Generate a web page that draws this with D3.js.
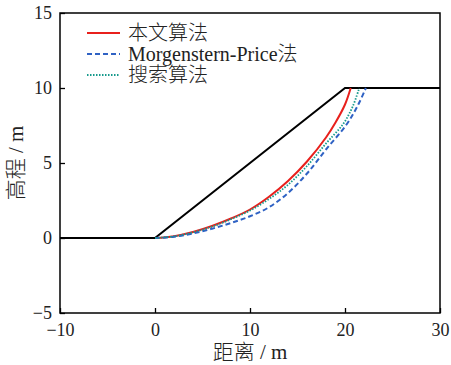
<!DOCTYPE html>
<html>
<head>
<meta charset="utf-8">
<script src="https://cdn.jsdelivr.net/npm/d3@7"></script>
<style>
  body { margin: 0; background: #fff; }
  text { font-family: "Liberation Serif", "Noto Sans CJK SC", serif; fill: #222; }
</style>
</head>
<body>
<div id="chart"></div>
<script>
// slope profile
const slopeX = [-10, 0, 20, 30];
const slopeY = [0, 0, 10, 10];

// slip surfaces
const redX = [0, 2, 4, 6, 8, 10, 12, 14, 16, 18, 19, 20, 20.6];
const redY = [0, 0.12, 0.4, 0.8, 1.3, 1.9, 2.75, 3.8, 5.1, 6.7, 7.7, 8.9, 10];
const tealX = [0, 2, 4, 6, 8, 10, 12, 14, 16, 18, 19.8, 20.8, 21.5];
const tealY = [0, 0.11, 0.38, 0.76, 1.25, 1.83, 2.6, 3.55, 4.8, 6.3, 7.6, 8.75, 10];
const blueX = [0, 2, 4, 6, 8, 10, 12, 14, 16, 18, 20.2, 21.4, 22.2];
const blueY = [0, 0.08, 0.3, 0.62, 1.0, 1.45, 2.05, 3.0, 4.3, 5.9, 7.6, 8.9, 10];

const xTicks = [-10, 0, 10, 20, 30];
const yTicks = [-5, 0, 5, 10, 15];
const legendLabels = ["本文算法", "Morgenstern-Price法", "搜索算法"];

const margin = { top: 13, right: 11, bottom: 52, left: 60 };
const width = 451 - margin.left - margin.right;
const height = 365 - margin.top - margin.bottom;

const svg = d3.select("#chart")
  .append("svg")
  .attr("width", 451)
  .attr("height", 365)
  .append("g")
  .attr("transform", `translate(${margin.left},${margin.top})`);

const x = d3.scaleLinear().domain([-10, 30]).range([0, width]);
const y = d3.scaleLinear().domain([-5, 15]).range([height, 0]);

const fmt = d => d < 0 ? "\u2212" + Math.abs(d) : String(d);

// axes with inward ticks
const xAxis = svg.append("g")
  .attr("transform", `translate(0,${height})`)
  .call(d3.axisBottom(x).tickValues(xTicks).tickSize(-5).tickPadding(8).tickFormat(fmt));
const yAxis = svg.append("g")
  .call(d3.axisLeft(y).tickValues(yTicks).tickSize(-5).tickPadding(8).tickFormat(fmt));
[xAxis, yAxis].forEach(a => {
  a.select(".domain").remove();
  a.selectAll("line").attr("stroke", "#000").attr("stroke-width", 1.3);
  a.selectAll("text").style("font-size", "18px").attr("fill", "#222");
});
xAxis.selectAll("text").attr("dy", "0.85em");

// frame
svg.append("rect")
  .attr("width", width)
  .attr("height", height)
  .attr("fill", "none")
  .attr("stroke", "#000")
  .attr("stroke-width", 1.5);

const line = d3.line().x(d => x(d[0])).y(d => y(d[1]));
const curve = d3.line().x(d => x(d[0])).y(d => y(d[1])).curve(d3.curveCatmullRom);

// slope
svg.append("path")
  .datum(slopeX.map((v, i) => [v, slopeY[i]]))
  .attr("d", line)
  .attr("fill", "none")
  .attr("stroke", "#000")
  .attr("stroke-width", 2);

const series = [
  { xs: redX, ys: redY, color: "#e8201c", dash: null, w: 2 },
  { xs: blueX, ys: blueY, color: "#2f62c4", dash: "5,3", w: 2 },
  { xs: tealX, ys: tealY, color: "#169a8c", dash: "1.5,1.5", w: 1.8 }
];

series.forEach(s => {
  svg.append("path")
    .datum(s.xs.map((v, i) => [v, s.ys[i]]))
    .attr("d", curve)
    .attr("fill", "none")
    .attr("stroke", s.color)
    .attr("stroke-width", s.w)
    .attr("stroke-dasharray", s.dash);
});

// legend
const legend = svg.append("g").attr("transform", "translate(27,20)");
legendLabels.forEach((label, i) => {
  const s = series[i];
  legend.append("line")
    .attr("x1", 0).attr("x2", 33)
    .attr("y1", i * 21).attr("y2", i * 21)
    .attr("stroke", s.color)
    .attr("stroke-width", s.w)
    .attr("stroke-dasharray", s.dash);
  legend.append("text")
    .attr("x", 41)
    .attr("y", i * 21)
    .attr("dy", "0.35em")
    .style("font-size", "20px")
    .style("font-weight", 300)
    .text(label);
});

// axis labels
svg.append("text")
  .attr("x", width / 2)
  .attr("y", height + 46)
  .attr("text-anchor", "middle")
  .style("font-size", "21px")
  .style("font-weight", 300)
  .text("距离 / m");

svg.append("text")
  .attr("transform", "rotate(-90)")
  .attr("x", -height / 2)
  .attr("y", -37)
  .attr("text-anchor", "middle")
  .style("font-size", "21px")
  .style("font-weight", 300)
  .text("高程 / m");
</script>
</body>
</html>
